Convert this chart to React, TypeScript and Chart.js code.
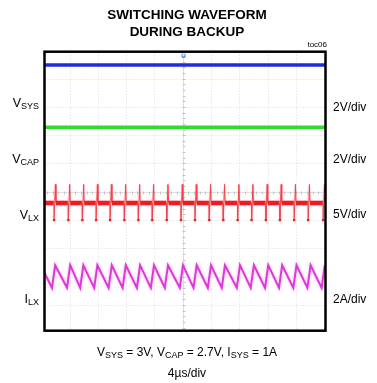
import React, { useEffect, useRef } from "react";
import { Chart, registerables } from "chart.js";

Chart.register(...registerables);

// Horizontal axis: time in µs, 0 = trigger point at screen centre
const US_PER_DIV = 4;
const TIME_SPAN = [-19.55, 20.2];
// Vertical screen extent in divisions (0 = centre graticule line)
const DIV_SPAN = [-4.91, 4.95];

// Channel setup: volts (or amps) per division and ground-marker position in divisions
const CHANNEL_NAMES = ["VSYS", "VCAP", "VLX", "ILX"];
const CHANNEL_PER_DIV = [2, 2, 5, 2];
const CHANNEL_GROUND_DIV = [2.98, 0.93, -0.9, -4.17];
const CHANNEL_COLORS = ["#1e2ed8", "#2ede2a", "#ec1b24", "#dc3ad6"];

// DC rails (V)
const VSYS_LEVEL = 3.0;
const VCAP_LEVEL = 2.7;

// Switch node: spike instants (µs) and levels (V)
const LX_SPIKE_TIMES = [
  -18.19, -16.17, -14.19, -12.25, -10.27, -8.25, -6.27, -4.3, -2.26, -0.24,
  1.74, 3.76, 5.74, 7.77, 9.75, 11.77, 13.75, 15.77, 17.75, 19.87,
];
const LX_BASE = 2.5;
const LX_HIGH = 5.8;
const LX_LOW = -0.5;

// Inductor current: valley and peak instants (µs) and levels (A)
const ILX_VALLEY_TIMES = [
  -18.49, -16.37, -14.5, -12.52, -10.48, -8.5, -6.48, -4.51, -2.53, -0.41,
  1.53, 3.55, 5.53, 7.65, 9.62, 11.65, 13.62, 15.65, 17.64, 19.65,
];
const ILX_PEAK_TIMES = [
  -18.04, -15.92, -14.05, -12.07, -10.03, -8.05, -6.03, -4.06, -2.08, 0.04,
  1.98, 4.0, 5.98, 8.1, 10.07, 12.1, 14.07, 16.1, 18.09, 20.1,
];
const ILX_START = 2.6;
const ILX_PEAK = 3.15;
const ILX_VALLEY = 1.55;

type Pt = { x: number; y: number };

function buildLx(): Pt[] {
  const pts: Pt[] = [{ x: TIME_SPAN[0], y: LX_BASE }];
  for (const t of LX_SPIKE_TIMES) {
    pts.push({ x: t - 0.03, y: LX_BASE });
    pts.push({ x: t, y: LX_LOW });
    pts.push({ x: t + 0.18, y: LX_HIGH });
    pts.push({ x: t + 0.26, y: LX_BASE });
  }
  pts.push({ x: TIME_SPAN[1], y: LX_BASE });
  return pts;
}

function buildIlx(): Pt[] {
  const pts: Pt[] = [{ x: TIME_SPAN[0], y: ILX_START }];
  ILX_VALLEY_TIMES.forEach((t, i) => {
    pts.push({ x: t, y: ILX_VALLEY });
    pts.push({ x: ILX_PEAK_TIMES[i], y: ILX_PEAK });
  });
  return pts;
}

const graticule = {
  id: "graticule",
  beforeDatasetsDraw(chart: any) {
    const { ctx, chartArea } = chart;
    const { left, right, top, bottom } = chartArea;
    const xs = chart.scales.x;
    const gs = chart.scales.grid;
    ctx.save();
    ctx.lineWidth = 1;
    ctx.strokeStyle = "#dcdcdc";
    ctx.setLineDash([1, 2]);
    for (let d = -5; d <= 5; d++) {
      if (d === 0) continue;
      const px = Math.round(xs.getPixelForValue(d * US_PER_DIV)) + 0.5;
      if (px > left + 2 && px < right - 2) {
        ctx.beginPath();
        ctx.moveTo(px, top);
        ctx.lineTo(px, bottom);
        ctx.stroke();
      }
      const py = Math.round(gs.getPixelForValue(d)) + 0.5;
      if (py > top + 2 && py < bottom - 2) {
        ctx.beginPath();
        ctx.moveTo(left, py);
        ctx.lineTo(right, py);
        ctx.stroke();
      }
    }
    // centre axes with minor ticks
    const cx = Math.round(xs.getPixelForValue(0)) + 0.5;
    const cy = Math.round(gs.getPixelForValue(0)) + 0.5;
    ctx.strokeStyle = "#bdbdbd";
    ctx.setLineDash([1, 1]);
    ctx.beginPath();
    ctx.moveTo(cx, top);
    ctx.lineTo(cx, bottom);
    ctx.moveTo(left, cy);
    ctx.lineTo(right, cy);
    ctx.stroke();
    ctx.setLineDash([]);
    ctx.strokeStyle = "#c4c4c4";
    ctx.beginPath();
    for (let k = -25; k <= 25; k++) {
      const tx = Math.round(xs.getPixelForValue((k * US_PER_DIV) / 5)) + 0.5;
      if (tx > left + 2 && tx < right - 2) {
        ctx.moveTo(tx, cy - 1);
        ctx.lineTo(tx, cy + 2);
      }
      const ty = Math.round(gs.getPixelForValue(k / 5)) + 0.5;
      if (ty > top + 2 && ty < bottom - 2) {
        ctx.moveTo(cx - 1, ty);
        ctx.lineTo(cx + 2, ty);
      }
    }
    ctx.stroke();
    ctx.restore();
  },
  beforeDatasetDraw(chart: any, args: any) {
    const ctx = chart.ctx;
    ctx.save();
    if (args.index === 2) {
      ctx.shadowColor = "rgba(250,150,160,0.6)";
      ctx.shadowBlur = 2;
    } else if (args.index === 3) {
      ctx.shadowColor = "rgba(245,150,240,0.7)";
      ctx.shadowBlur = 3;
    }
  },
  afterDatasetDraw(chart: any) {
    chart.ctx.restore();
  },
  afterDraw(chart: any) {
    const { ctx, chartArea } = chart;
    const { left, right, top, bottom } = chartArea;
    ctx.save();
    // trigger position marker
    const mx = Math.round(chart.scales.x.getPixelForValue(0)) + 0.5;
    ctx.strokeStyle = "#3a78e0";
    ctx.lineWidth = 1;
    ctx.beginPath();
    ctx.moveTo(mx - 1.5, top + 2);
    ctx.lineTo(mx - 1.5, top + 5.5);
    ctx.lineTo(mx + 1.5, top + 5.5);
    ctx.lineTo(mx + 1.5, top + 2);
    ctx.stroke();
    // screen frame
    ctx.strokeStyle = "#000";
    ctx.lineWidth = 2.5;
    ctx.strokeRect(left, top, right - left, bottom - top);
    ctx.restore();
  },
};

const FONT = '"Liberation Sans", Arial, Helvetica, sans-serif';

function Label(props: {
  main: string;
  sub?: string;
  size: number;
  baseline: number;
  left?: number;
  right?: number;
}) {
  const { main, sub, size, baseline, left, right } = props;
  const style: React.CSSProperties = {
    position: "absolute",
    top: baseline - 0.8465 * size,
    fontFamily: FONT,
    fontSize: size,
    lineHeight: `${size}px`,
    whiteSpace: "nowrap",
    color: "#000",
  };
  if (left !== undefined) style.left = left;
  if (right !== undefined) {
    style.right = right;
    style.textAlign = "right";
  }
  return (
    <div style={style}>
      {main}
      {sub ? <span style={{ fontSize: size * 0.72, position: "relative", top: 2 }}>{sub}</span> : null}
    </div>
  );
}

const SUB: React.CSSProperties = { fontSize: 9, position: "relative", top: 2 };

export default function App() {
  const canvasRef = useRef<HTMLCanvasElement | null>(null);

  useEffect(() => {
    const canvas = canvasRef.current;
    if (!canvas) return;

    const series: Pt[][] = [
      [
        { x: TIME_SPAN[0], y: VSYS_LEVEL },
        { x: TIME_SPAN[1], y: VSYS_LEVEL },
      ],
      [
        { x: TIME_SPAN[0], y: VCAP_LEVEL },
        { x: TIME_SPAN[1], y: VCAP_LEVEL },
      ],
      buildLx(),
      buildIlx(),
    ];

    const channelScales: Record<string, any> = {};
    CHANNEL_NAMES.forEach((name, i) => {
      channelScales[name] = {
        type: "linear",
        axis: "y",
        position: "left",
        display: false,
        min: (DIV_SPAN[0] - CHANNEL_GROUND_DIV[i]) * CHANNEL_PER_DIV[i],
        max: (DIV_SPAN[1] - CHANNEL_GROUND_DIV[i]) * CHANNEL_PER_DIV[i],
      };
    });

    const datasets = series.map((data, i) => {
      const base: any = {
        label: CHANNEL_NAMES[i],
        data,
        yAxisID: CHANNEL_NAMES[i],
        borderColor: CHANNEL_COLORS[i],
        backgroundColor: CHANNEL_COLORS[i],
        borderWidth: i < 2 ? 3.5 : 2,
        pointRadius: 0,
        tension: 0,
        fill: false,
        borderJoinStyle: "miter",
      };
      if (i === 2) {
        base.segment = {
          borderWidth: (c: any) =>
            c.p0.parsed.y === LX_BASE && c.p1.parsed.y === LX_BASE ? 4.5 : 1,
          borderColor: (c: any) =>
            c.p0.parsed.y === LX_BASE && c.p1.parsed.y === LX_BASE ? CHANNEL_COLORS[2] : "#f0444c",
        };
        base.pointRadius = (c: any) => (c.raw && c.raw.y === LX_LOW ? 1.6 : 0);
        base.pointStyle = "rect";
        base.pointBorderWidth = 0;
      }
      return base;
    });

    const chart = new Chart(canvas, {
      type: "line",
      data: { datasets },
      options: {
        animation: false,
        responsive: false,
        devicePixelRatio: 1,
        parsing: false,
        normalized: true,
        layout: { padding: { left: 44.5, right: 51.5, top: 51.7, bottom: 52.3 } },
        plugins: { legend: { display: false }, tooltip: { enabled: false } },
        events: [],
        scales: {
          x: { type: "linear", axis: "x", position: "bottom", display: false, min: TIME_SPAN[0], max: TIME_SPAN[1] },
          grid: { type: "linear", axis: "y", position: "left", display: false, min: DIV_SPAN[0], max: DIV_SPAN[1] },
          ...channelScales,
        },
      } as any,
      plugins: [graticule],
    });

    return () => chart.destroy();
  }, []);

  return (
    <div
      style={{
        position: "absolute",
        left: 0,
        top: 0,
        width: 377,
        height: 383,
        background: "#fff",
        overflow: "hidden",
      }}
    >
      <canvas ref={canvasRef} width={377} height={383} style={{ position: "absolute", left: 0, top: 0 }} />
      <div
        style={{
          position: "absolute",
          left: 0,
          width: 374,
          top: 19 - 0.8465 * 13.5,
          textAlign: "center",
          fontFamily: FONT,
          fontWeight: "bold",
          fontSize: 13.5,
          lineHeight: "17.5px",
        }}
      >
        <div style={{ lineHeight: "13.5px" }}>SWITCHING WAVEFORM</div>
        <div style={{ lineHeight: "13.5px", marginTop: 4 }}>DURING BACKUP</div>
      </div>
      <Label main="toc06" size={8} baseline={48} right={50} />

      <Label main="V" sub="SYS" size={12.5} baseline={108} right={338} />
      <Label main="V" sub="CAP" size={12.5} baseline={164} right={338} />
      <Label main="V" sub="LX" size={12.5} baseline={220} right={338} />
      <Label main="I" sub="LX" size={12.5} baseline={304} right={338} />

      <Label main="2V/div" size={12} baseline={111.3} left={333} />
      <Label main="2V/div" size={12} baseline={163.3} left={333} />
      <Label main="5V/div" size={12} baseline={218.3} left={333} />
      <Label main="2A/div" size={12} baseline={303.3} left={333} />

      <div
        style={{
          position: "absolute",
          left: 0,
          width: 374,
          top: 356.5 - 0.8465 * 12,
          textAlign: "center",
          fontFamily: FONT,
          fontSize: 12,
          lineHeight: "12px",
          whiteSpace: "nowrap",
        }}
      >
        V<span style={SUB}>SYS</span> = 3V, V<span style={SUB}>CAP</span> = 2.7V, I
        <span style={SUB}>SYS</span> = 1A
      </div>
      <div
        style={{
          position: "absolute",
          left: 0,
          width: 374,
          top: 377.5 - 0.8465 * 12,
          textAlign: "center",
          fontFamily: FONT,
          fontSize: 12,
          lineHeight: "12px",
        }}
      >
        4µs/div
      </div>
    </div>
  );
}
